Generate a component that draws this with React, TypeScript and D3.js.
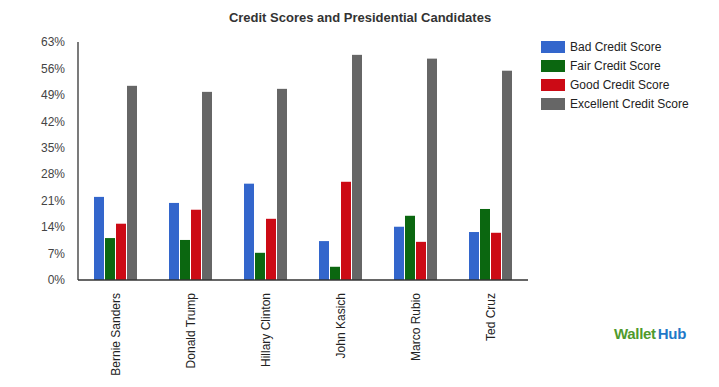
import React from 'react';
import * as d3 from 'd3';

const candidates = ['Bernie Sanders', 'Donald Trump', 'Hillary Clinton', 'John Kasich', 'Marco Rubio', 'Ted Cruz'];
const seriesNames = ['Bad Credit Score', 'Fair Credit Score', 'Good Credit Score', 'Excellent Credit Score'];
const badScore = [22.0, 20.4, 25.5, 10.3, 14.1, 12.7];
const fairScore = [11.1, 10.6, 7.2, 3.5, 17.0, 18.8];
const goodScore = [14.9, 18.6, 16.2, 26.0, 10.1, 12.5];
const excellentScore = [51.4, 49.8, 50.6, 59.6, 58.6, 55.4];
const yTicks = [0, 7, 14, 21, 28, 35, 42, 49, 56, 63];
const colors = ['#3366cc', '#0b6710', '#cc0a15', '#666666'];

const W = 719;
const H = 387;
const margin = { left: 78, right: 191, top: 42, bottom: 107 };
const font = 'Arial, "Liberation Sans", sans-serif';

function App() {
    const series = [badScore, fairScore, goodScore, excellentScore];

    const x = d3.scaleBand<string>()
        .domain(candidates)
        .range([margin.left, W - margin.right]);

    const barW = 10;
    const barStep = 11;
    const inner = d3.scaleBand<number>()
        .domain(d3.range(series.length))
        .range([0, barStep * series.length]);

    const y = d3.scaleLinear()
        .domain([0, 63])
        .range([H - margin.bottom, margin.top]);

    const y0 = y(0);

    return (
        <svg width={W} height={H} style={{ position: 'absolute', left: 0, top: 0, background: '#fff' }} fontFamily={font}>
            <text x={360} y={22} textAnchor="middle" fontSize={13} fontWeight="bold" fill="#333">
                Credit Scores and Presidential Candidates
            </text>

            {yTicks.map(t => (
                <text key={t} x={65} y={y(t)} dy="0.35em" textAnchor="end" fontSize={12} fill="#444">
                    {t}%
                </text>
            ))}

            {candidates.map((c, i) => {
                const cx = (x(c) as number) + x.bandwidth() / 2;
                const start = cx - (barStep * series.length - 1) / 2;
                return (
                    <g key={c}>
                        {series.map((s, k) => (
                            <rect
                                key={k}
                                x={start + (inner(k) as number)}
                                y={y(s[i])}
                                width={barW}
                                height={y0 - y(s[i])}
                                fill={colors[k]}
                            />
                        ))}
                        <text
                            transform={`translate(${cx + 4},${y0 + 13}) rotate(-90)`}
                            textAnchor="end"
                            fontSize={12}
                            fill="#222"
                        >
                            {c}
                        </text>
                    </g>
                );
            })}

            <line x1={margin.left} x2={margin.left} y1={margin.top} y2={y0} stroke="#333" strokeWidth={1.3} />
            <line x1={margin.left} x2={W - margin.right} y1={y0} y2={y0} stroke="#333" strokeWidth={1.3} />

            {seriesNames.map((name, k) => (
                <g key={name} transform={`translate(541,${41 + k * 19})`}>
                    <rect width={24} height={12} fill={colors[k]} />
                    <text x={29} y={6} dy="0.35em" fontSize={12} fill="#222">{name}</text>
                </g>
            ))}

            <text x={614} y={339} fontSize={15} fontWeight="bold" letterSpacing={-0.3}>
                <tspan fill="#4f9a2d">Wallet</tspan>
                <tspan fill="#1f78c8" dx={2}>Hub</tspan>
            </text>
        </svg>
    );
}

export default App;
